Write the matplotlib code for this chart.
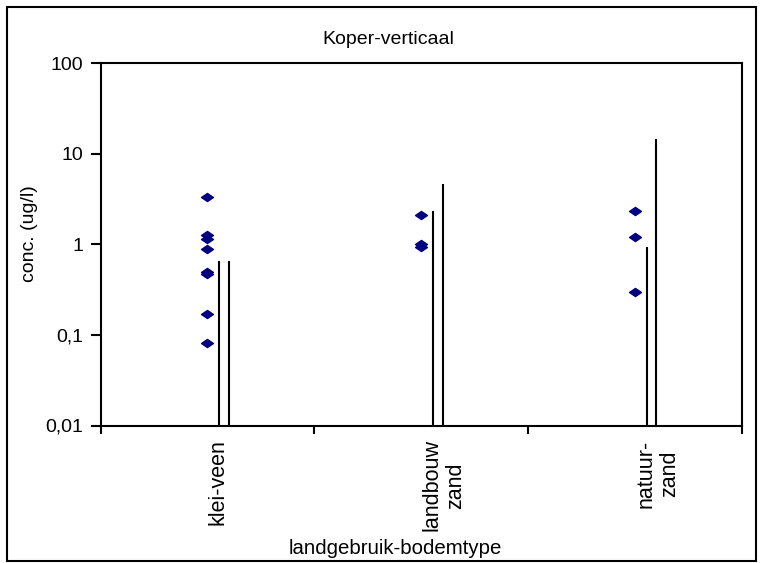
import numpy as np
import matplotlib.pyplot as plt
from matplotlib.path import Path
from matplotlib.patches import Rectangle

plt.rcParams['font.family'] = ['Liberation Sans', 'DejaVu Sans']

# categories
categories = ['klei-veen', 'landbouw\nzand', 'natuur-\nzand']

# measured points per category (ug/l)
klei_points = [3.3, 1.27, 1.15, 0.9, 0.5, 0.47, 0.17, 0.081]
landbouw_points = [2.1, 1.0, 0.93]
natuur_points = [2.35, 1.22, 0.30]

# vertical lines (two per category)
line_a = [0.66, 2.33, 0.94]
line_b = [0.66, 4.6, 14.6]

y_ticks = [0.01, 0.1, 1, 10, 100]
y_ticklabels = ['0,01', '0,1', '1', '10', '100']

fig = plt.figure(figsize=(7.63, 5.63), dpi=100)
ax = fig.add_axes([100.5 / 763, 1 - 425.5 / 563, (742 - 100.5) / 763, (425.5 - 63.3) / 563])

# flattened diamond marker
diamond = Path([(-1, 0), (0, 0.68), (1, 0), (0, -0.68), (-1, 0)],
               [Path.MOVETO, Path.LINETO, Path.LINETO, Path.LINETO, Path.CLOSEPOLY])

x = np.arange(1, len(categories) + 1)
for xi, pts in zip(x, [klei_points, landbouw_points, natuur_points]):
    ax.plot([xi] * len(pts), pts, linestyle='none', marker=diamond,
            markersize=8.6, color='#000080', zorder=3)

ax.vlines(x + 0.054, 0.01, line_a, color='black', lw=1.5)
ax.vlines(x + 0.1, 0.01, line_b, color='black', lw=1.5)

ax.set_yscale('log')
ax.set_ylim(0.01, 100)
ax.set_xlim(0.5, 3.5)
ax.set_yticks(y_ticks)
ax.set_yticklabels(y_ticklabels)
ax.yaxis.set_minor_locator(plt.NullLocator())
ax.tick_params(axis='y', which='major', direction='out', length=7, width=1.5,
               pad=5.5, labelsize=14)

ax.set_xticks(x)
ax.set_xticklabels(categories, rotation=90, ha='left', va='top',
                   multialignment='center', fontsize=15.5)
ax.tick_params(axis='x', which='major', length=0, pad=10)
ax.set_xticks(np.arange(0.5, 3.6, 1), minor=True)
ax.tick_params(axis='x', which='minor', direction='out', length=6, width=1.5)

for s in ax.spines.values():
    s.set_linewidth(1.5)

fig.text(388 / 763, 1 - 40 / 563, 'Koper-verticaal', ha='center', va='center', fontsize=14)
fig.text(395 / 763, 1 - 548 / 563, 'landgebruik-bodemtype', ha='center', va='center', fontsize=14.7)
fig.text(30 / 763, 1 - 234 / 563, 'conc. (ug/l)', ha='center', va='center',
         rotation=90, fontsize=14)

fig.patches.append(Rectangle((7 / 763, 1 - 561 / 563), (756 - 7) / 763, (561 - 6.5) / 563,
                             transform=fig.transFigure, fill=False, edgecolor='black', lw=1.5))

fig.savefig('out.png', dpi=100)
